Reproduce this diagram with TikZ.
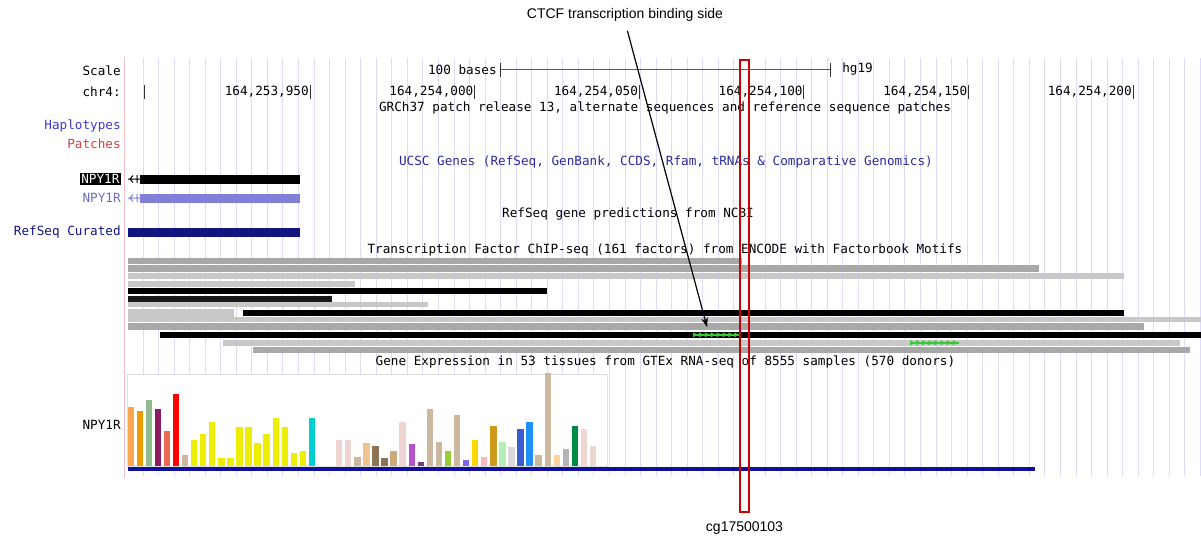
\documentclass[tikz,border=0pt]{standalone}
\usepackage{fontspec}
\setmainfont{Liberation Sans}
\newfontfamily\gbfont{DejaVu Sans Mono}
\usetikzlibrary{positioning,arrows.meta}
\definecolor{gridc}{HTML}{DCDCF8}
\definecolor{leftc}{HTML}{F4C4C4}
\definecolor{hapc}{HTML}{3C3CC8}
\definecolor{patc}{HTML}{D04040}
\definecolor{ucscc}{HTML}{2A2A9A}
\definecolor{lavc}{HTML}{8080D8}
\definecolor{navyc}{HTML}{14147E}
\definecolor{chipa}{HTML}{A8A8A8}
\definecolor{chipb}{HTML}{C8C8C8}
\definecolor{motifc}{HTML}{33CC33}
\definecolor{cpgred}{HTML}{CC0000}
\tikzset{lab/.style={inner sep=0pt}, tick/.style={line width=0.75pt, black!80}}
\begin{document}
\begin{tikzpicture}[x=0.75pt, y=-0.75pt, >={Stealth[length=7pt,width=5pt]}, font=\gbfont\fontsize{9.5}{11}\selectfont]
\useasboundingbox (0,0) rectangle (1201,542);
% browser grid
\draw[leftc, line width=0.75pt] (124,57) -- (124,478);
\foreach \k in {0,...,68}
  \draw[gridc, line width=0.75pt] ({143+15.55*\k},58) -- ({143+15.55*\k},476);
% ruler
\node[lab, anchor=east] (scale) at (121,71) {Scale};
\node[lab, anchor=east] (chr) at (121,92) {chr4:};
\node[lab, anchor=east] (bases) at (497,70) {100 bases};
\draw[tick, black!65] (500,70) -- (830,70);
\draw[tick] (500,63) -- (500,77) (830,63) -- (830,77);
\node[lab, anchor=west] (hg) at (842,69) {hg19};
\draw[tick] (144,85) -- (144,99);
\foreach \t/\pos in {164{,}253{,}950/310, 164{,}254{,}000/474.6, 164{,}254{,}050/639.2, 164{,}254{,}100/803.8, 164{,}254{,}150/968.4, 164{,}254{,}200/1133}{
  \node[lab, anchor=east] at (\pos-1,92) {\t};
  \draw[tick] (\pos,85) -- (\pos,99);
}
\node[lab] (grc) at (665,108) {GRCh37 patch release 13, alternate sequences and reference sequence patches};
\node[lab, anchor=east, text=hapc] (hap) at (121,126) {Haplotypes};
\node[lab, anchor=east, text=patc] (pat) at (121,144) {Patches};
\node[lab, text=ucscc] (ucsc) at (666,162) {UCSC Genes (RefSeq, GenBank, CCDS, Rfam, tRNAs \& Comparative Genomics)};
% genes
\node[anchor=east, fill=black, text=white, inner sep=1pt] (npya) at (121,179) {NPY1R};
\draw[line width=0.75pt] (128,179) -- (140,179) (133,175.5) -- (130,179) -- (133,182.5) (137,175) -- (137,183);
\fill (140,174.5) rectangle (300,183.5);
\node[lab, anchor=east, text=lavc!85!black] (npyb) at (121,198) {NPY1R};
\draw[lavc, line width=0.75pt] (128,198) -- (140,198) (133,194.5) -- (130,198) -- (133,201.5) (137,194) -- (137,202);
\fill[lavc] (140,193.5) rectangle (300,202.5);
\node[lab] (refpred) at (628,214) {RefSeq gene predictions from NCBI};
\node[lab, anchor=east, text=navyc] (refcur) at (121,232) {RefSeq Curated};
\fill[navyc] (128,228) rectangle (300,237);
% ChIP-seq clusters
\node[lab] (chip) at (665,250) {Transcription Factor ChIP-seq (161 factors) from ENCODE with Factorbook Motifs};
\foreach \ya/\yb/\xa/\xb/\c in {258/264/128/742/chipa, 265/271.5/128/1039/chipa, 272.5/279/128/1124/chipb,
    280.5/286.5/128/355/chipb, 288/294/128/547/black, 295.5/301.5/128/332/black!90, 301.5/306.5/128/428/chipb,
    309/316.5/128/234/chipb, 309.5/316/243/1124/black, 316.5/322/128/1201/chipb, 322.5/330/128/1144/chipa,
    331.5/338/160/1201/black, 339.5/345.5/223/1180/chipb, 346.5/352.5/253/1190/chipa}
  \fill[\c] (\xa,\ya) rectangle (\xb,\yb);
\fill[motifc] (693,333.5) rectangle (740,336);
\foreach \i in {0,...,7}
  \fill[motifc] ({693+5.9*\i},332.3) -- ++(5,2.5) -- ++(-5,2.5) -- cycle;
\fill[motifc] (910,341.5) rectangle (959,344);
\foreach \i in {0,...,7}
  \fill[motifc] ({910+6.1*\i},340.3) -- ++(5,2.5) -- ++(-5,2.5) -- cycle;
% GTEx expression
\node[lab] (gtex) at (665.5,362) {Gene Expression in 53 tissues from GTEx RNA-seq of 8555 samples (570 donors)};
\node[lab, anchor=east] (npyc) at (121,425) {NPY1R};
\filldraw[fill=white, draw=black!12, line width=0.75pt] (127,374) rectangle (607.7,466);
\foreach \n/\t/\c in {1/406.7/FFA54F, 2/410.7/EE9A00, 3/400/8FBC8F, 4/409/8B1C62, 5/430.7/EE6A50, 6/394/FF0000,
    7/454.7/CDB79E, 8/440/EEEE00, 9/434.3/EEEE00, 10/421.7/EEEE00, 11/458.3/EEEE00, 12/458.3/EEEE00,
    13/427.3/EEEE00, 14/427.3/EEEE00, 15/443.3/EEEE00, 16/434.3/EEEE00, 17/418.3/EEEE00, 18/427.3/EEEE00,
    19/452.7/EEEE00, 20/451/EEEE00, 21/418.3/00CED1, 24/440/EED5D2, 25/440/EED5D2, 26/456.7/CDB79E,
    27/443.3/EEC591, 28/445.7/8B7355, 29/458.3/8B7355, 30/451/CDAA7D, 31/422/EED5D2, 32/443.7/B452CD,
    33/462.3/7A378B, 34/409.3/CDB79E, 35/441.7/CDB79E, 36/451/9ACD32, 37/414.7/CDB79E, 38/460/7A67EE,
    39/440/FFD700, 40/456.7/FFB6C1, 41/425.7/CD9B1D, 42/441.7/B4EEB4, 43/447.3/D9D9D9, 44/429/3A5FCD,
    45/422/1E90FF, 46/455/CDB79E, 47/372.7/CDB79E, 48/455/FFD39B, 49/449/B4B4B4, 50/425.7/008B45,
    51/429.3/EED5D2, 52/445.7/EED5D2}{
  \definecolor{barc}{HTML}{\c}
  \fill[barc] ({130.7+9.065*(\n-1)-3.2},\t) rectangle ({130.7+9.065*(\n-1)+3.2},466);
}
\fill[navyc!80!blue] (128,467) rectangle (1035,470.5);
% annotations
\node[cpgred, draw, line width=1.5pt, minimum width=6.75pt, minimum height=339pt, inner sep=0pt] (cpg) at (744.5,286) {};
\node[lab, font=\normalfont\fontsize{10.5}{12}\selectfont, below=6.5pt of cpg] (cglab) {cg17500103};
\node[lab, font=\normalfont\fontsize{10.5}{12}\selectfont] (ctcf) at (625,15) {CTCF transcription binding side};
\coordinate (motif) at (707,327);
\draw[->, line width=0.9pt, shorten <=7pt] (ctcf.south) -- (motif);
\end{tikzpicture}
\end{document}
